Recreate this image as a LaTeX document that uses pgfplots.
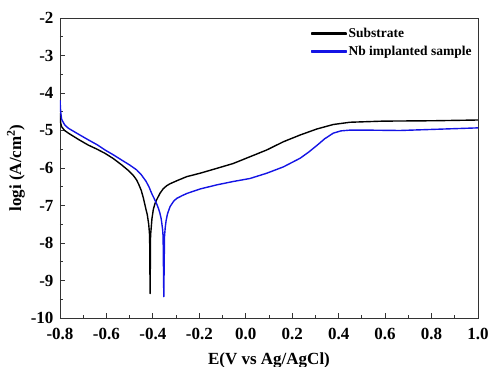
\documentclass[border=0pt]{standalone}
\usepackage{fontspec}
\setmainfont{Liberation Serif}
\usepackage{pgfplots}
\pgfplotsset{compat=1.18}
\definecolor{nbblue}{rgb}{0.08,0.08,0.9}
\pgfplotsset{
  blackleg/.style={legend image code/.code={\fill[black] (0pt,-0.75pt) rectangle (34pt,0.75pt);}},
  blueleg/.style={legend image code/.code={\fill[nbblue] (0pt,-0.75pt) rectangle (34pt,0.75pt);}},
}
\begin{document}
\begin{tikzpicture}
\begin{axis}[
  scale only axis,
  width=418pt, height=300pt,
  xmin=-0.8, xmax=1.0, ymin=-10, ymax=-2,
  xtick={-0.8,-0.6,...,1.0},
  ytick={-10,-9,...,-2},
  minor x tick num=1, minor y tick num=1,
  xtick pos=left, ytick pos=left,
  tick align=inside,
  major tick length=5pt, minor tick length=3pt,
  axis line style={line width=0.9pt, black!80},
  every tick/.style={line width=0.9pt, black!80},
  /pgf/number format/assume math mode=true,
  ticklabel style={font=\fontsize{17}{20}\selectfont\bfseries},
  xticklabel style={yshift=-7pt, /pgf/number format/.cd, fixed, fixed zerofill, precision=1},
  yticklabel style={xshift=-3pt, /pgf/number format/.cd, fixed, precision=0},
  xlabel={E(V vs Ag/AgCl)},
  ylabel={logi (A/cm\textsuperscript{2})},
  label style={font=\fontsize{17}{20}\selectfont\bfseries},
  xlabel style={yshift=-6pt},
  ylabel style={yshift=-1pt},
  legend style={draw=none, fill=none, at={(rel axis cs:0.997,0.98)}, anchor=north east,
    font=\fontsize{13.5}{15}\selectfont\bfseries, row sep=3pt},
  legend cell align=left,
]
\addplot[draw=black, line width=1.4pt, line join=round, blackleg] coordinates {
(-0.800,-4.53) (-0.797,-4.80) (-0.793,-4.90) (-0.780,-5.00) (-0.764,-5.07)
(-0.720,-5.24) (-0.678,-5.39) (-0.640,-5.50) (-0.606,-5.61) (-0.570,-5.75)
(-0.534,-5.92) (-0.505,-6.07) (-0.484,-6.20) (-0.470,-6.32) (-0.460,-6.45)
(-0.450,-6.60) (-0.441,-6.80) (-0.431,-7.07) (-0.424,-7.25) (-0.418,-7.50)
(-0.414,-7.80) (-0.412,-9.35) (-0.410,-7.80) (-0.404,-7.35) (-0.398,-7.10)
(-0.391,-6.95) (-0.384,-6.85) (-0.369,-6.67) (-0.355,-6.55) (-0.340,-6.47)
(-0.326,-6.42) (-0.297,-6.34) (-0.254,-6.23) (-0.197,-6.14) (-0.125,-6.01)
(-0.054,-5.88) (0.018,-5.70) (0.090,-5.52) (0.162,-5.30) (0.234,-5.12)
(0.306,-4.96) (0.377,-4.84) (0.449,-4.78) (0.592,-4.75) (0.808,-4.74)
(1.000,-4.72)
};
\addlegendentry{Substrate}
\addplot[draw=nbblue, line width=1.4pt, line join=round, blueleg] coordinates {
(-0.800,-4.19) (-0.797,-4.50) (-0.793,-4.70) (-0.780,-4.85) (-0.764,-4.94)
(-0.720,-5.10) (-0.678,-5.25) (-0.640,-5.38) (-0.606,-5.52) (-0.570,-5.65)
(-0.534,-5.79) (-0.500,-5.92) (-0.470,-6.05) (-0.450,-6.18) (-0.430,-6.35)
(-0.417,-6.50) (-0.405,-6.68) (-0.394,-6.82) (-0.384,-6.95) (-0.376,-7.08)
(-0.370,-7.20) (-0.365,-7.33) (-0.362,-7.45) (-0.358,-7.65) (-0.356,-7.83)
(-0.353,-9.43) (-0.350,-7.83) (-0.347,-7.60) (-0.343,-7.40) (-0.337,-7.22)
(-0.326,-7.03) (-0.310,-6.88) (-0.297,-6.81) (-0.275,-6.74) (-0.254,-6.68)
(-0.197,-6.56) (-0.125,-6.45) (-0.054,-6.36) (0.018,-6.28) (0.090,-6.14)
(0.162,-5.97) (0.234,-5.74) (0.270,-5.58) (0.306,-5.40) (0.340,-5.22)
(0.377,-5.07) (0.410,-5.01) (0.449,-4.99) (0.521,-4.99) (0.664,-5.00)
(0.808,-4.97) (1.000,-4.93)
};
\addlegendentry{Nb implanted sample}
\end{axis}
\pgfresetboundingbox
\useasboundingbox ([xshift=-60pt,yshift=-49pt]current axis.south west) rectangle ([xshift=10pt,yshift=18pt]current axis.north east);
\end{tikzpicture}
\end{document}
